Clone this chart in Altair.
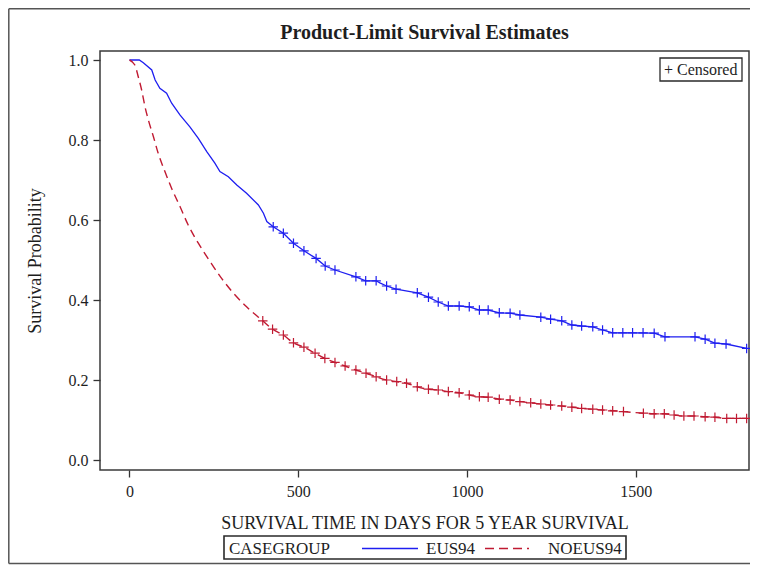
import altair as alt
import pandas as pd

# ---------------- data ----------------
eus_t = [0, 29, 41, 66, 76, 90, 110, 125, 150, 179, 204, 229, 253, 268, 293, 318, 347, 382,
         397, 407, 426, 456, 486, 517, 553, 580, 609, 671, 700, 731, 742, 762, 790, 853, 886,
         915, 945, 977, 1007, 1037, 1063, 1096, 1128, 1157, 1219, 1248, 1281, 1311, 1340,
         1373, 1402, 1432, 1491, 1555, 1587, 1676, 1706, 1735, 1768, 1829]
eus_s = [1.0, 1.0, 0.993, 0.975, 0.95, 0.929, 0.917, 0.892, 0.862, 0.833, 0.804, 0.771, 0.742,
         0.721, 0.708, 0.6875, 0.667, 0.6375, 0.617, 0.596, 0.583, 0.567, 0.542, 0.523, 0.504,
         0.485, 0.475, 0.458, 0.448, 0.448, 0.443, 0.435, 0.427, 0.418, 0.407, 0.395, 0.385,
         0.385, 0.383, 0.375, 0.375, 0.368, 0.367, 0.3625, 0.357, 0.352, 0.348, 0.3375, 0.335,
         0.333, 0.325, 0.318, 0.318, 0.317, 0.308, 0.308, 0.302, 0.292, 0.29, 0.279]

eus_cens_t = [426, 456, 486, 517, 553, 580, 609, 671, 700, 731, 762, 790, 853, 886, 915, 945,
              977, 1007, 1037, 1063, 1096, 1128, 1157, 1219, 1248, 1281, 1311, 1340, 1373, 1402,
              1432, 1462, 1491, 1522, 1555, 1587, 1676, 1706, 1735, 1768, 1829]
eus_cens_s = [0.583, 0.567, 0.542, 0.523, 0.504, 0.485, 0.475, 0.458, 0.448, 0.448, 0.435,
              0.427, 0.418, 0.407, 0.395, 0.385, 0.385, 0.383, 0.375, 0.375, 0.368, 0.367,
              0.3625, 0.357, 0.352, 0.348, 0.3375, 0.335, 0.333, 0.325, 0.318, 0.318, 0.318,
              0.318, 0.317, 0.308, 0.308, 0.302, 0.292, 0.29, 0.279]

noeus_t = [0, 16, 26, 36, 46, 56, 71, 85, 105, 125, 150, 174, 204, 239, 273, 313, 347, 395,
           424, 456, 486, 517, 550, 579, 609, 639, 671, 701, 731, 762, 792, 821, 853, 886, 915,
           945, 977, 1007, 1037, 1063, 1096, 1128, 1157, 1189, 1219, 1248, 1281, 1311, 1340,
           1373, 1402, 1432, 1464, 1523, 1555, 1585, 1614, 1643, 1673, 1706, 1735, 1770, 1799,
           1829]
noeus_s = [1.0, 0.9875, 0.958, 0.925, 0.883, 0.85, 0.808, 0.767, 0.721, 0.679, 0.633, 0.5875,
           0.542, 0.496, 0.454, 0.4125, 0.383, 0.348, 0.327, 0.3125, 0.293, 0.282, 0.267, 0.254,
           0.244, 0.235, 0.225, 0.217, 0.208, 0.2, 0.196, 0.192, 0.183, 0.177, 0.175, 0.171,
           0.168, 0.1625, 0.158, 0.157, 0.152, 0.15, 0.146, 0.143, 0.14, 0.1375, 0.135, 0.132,
           0.129, 0.127, 0.125, 0.123, 0.121, 0.117, 0.1155, 0.1155, 0.1125, 0.11, 0.11, 0.108,
           0.107, 0.104, 0.104, 0.104]

noeus_cens_t = [395, 424, 456, 486, 517, 550, 579, 609, 639, 671, 701, 731, 762, 792, 821, 853,
                886, 915, 945, 977, 1007, 1037, 1063, 1096, 1128, 1157, 1189, 1219, 1248, 1281,
                1311, 1340, 1373, 1402, 1432, 1464, 1523, 1555, 1585, 1614, 1643, 1673, 1706,
                1735, 1770, 1799, 1829]
noeus_cens_s = [0.348, 0.327, 0.3125, 0.293, 0.282, 0.267, 0.254, 0.244, 0.235, 0.225, 0.217,
                0.208, 0.2, 0.196, 0.192, 0.183, 0.177, 0.175, 0.171, 0.168, 0.1625, 0.158,
                0.157, 0.152, 0.15, 0.146, 0.143, 0.14, 0.1375, 0.135, 0.132, 0.129, 0.127,
                0.125, 0.123, 0.121, 0.117, 0.1155, 0.1155, 0.1125, 0.11, 0.11, 0.108, 0.107,
                0.104, 0.104, 0.104]

x_ticks = [0, 500, 1000, 1500]
y_ticks = [0.0, 0.2, 0.4, 0.6, 0.8, 1.0]

TITLE = "Product-Limit Survival Estimates"
X_TITLE = "SURVIVAL TIME IN DAYS FOR 5 YEAR SURVIVAL"
Y_TITLE = "Survival Probability"
LEGEND_TITLE = "CASEGROUP"
GROUPS = ["EUS94", "NOEUS94"]
CENSORED = "+ Censored"

# ---------------- styling ----------------
FONT = "Liberation Serif"
BLUE = "#1e1ef0"
RED = "#c01a32"
TXT = "#1e1e1e"
W, H = 649, 419
XDOM = [-87.4, 1836]
YDOM = [-0.025, 1.0225]
CROSS = "M-1,0L1,0M0,-1L0,1"

x_scale = alt.Scale(domain=XDOM, nice=False, zero=False)
y_scale = alt.Scale(domain=YDOM, nice=False, zero=False)

x_axis = alt.Axis(values=x_ticks, format="d", grid=False, domain=False,
                  tickSize=7, tickColor="#333", tickWidth=1.3,
                  labelFont=FONT, labelFontSize=16, labelColor=TXT, labelPadding=6,
                  labelFlush=False,
                  title=X_TITLE, titleFont=FONT, titleFontSize=18, titleFontWeight="normal",
                  titleColor=TXT, titleX=W / 2, titleY=58, titleAlign="center",
                  titleBaseline="alphabetic", titleAnchor="middle")
y_axis = alt.Axis(values=y_ticks, format=".1f", grid=False, domain=False,
                  tickSize=7, tickColor="#333", tickWidth=1.3,
                  labelFont=FONT, labelFontSize=16, labelColor=TXT, labelPadding=5,
                  labelFlush=False,
                  title=Y_TITLE, titleFont=FONT, titleFontSize=18, titleFontWeight="normal",
                  titleColor=TXT, titleAngle=270, titleX=-60, titleY=H / 2,
                  titleAlign="center", titleBaseline="alphabetic")

X = alt.X("t:Q", scale=x_scale, axis=x_axis)
Y = alt.Y("s:Q", scale=y_scale, axis=y_axis)

eus_df = pd.DataFrame({"t": eus_t, "s": eus_s})
noeus_df = pd.DataFrame({"t": noeus_t, "s": noeus_s})
eus_c = pd.DataFrame({"t": eus_cens_t, "s": eus_cens_s})
noeus_c = pd.DataFrame({"t": noeus_cens_t, "s": noeus_cens_s})
one = pd.DataFrame({"a": [0]})

line_eus = alt.Chart(eus_df).mark_line(color=BLUE, strokeWidth=1.3, interpolate="linear").encode(x=X, y=Y)
line_noeus = alt.Chart(noeus_df).mark_line(color=RED, strokeWidth=1.4, strokeDash=[8, 5],
                                           interpolate="monotone").encode(x=X, y=Y)
pts_eus = alt.Chart(eus_c).mark_point(shape=CROSS, size=90, color=BLUE, strokeWidth=1.2,
                                      filled=False, opacity=1).encode(x=X, y=Y)
pts_noeus = alt.Chart(noeus_c).mark_point(shape=CROSS, size=90, color=RED, strokeWidth=1.2,
                                          filled=False, opacity=1).encode(x=X, y=Y)

def txt(s, x, y, size=17, align="left", weight="normal"):
    return alt.Chart(one).mark_text(font=FONT, fontSize=size, fontWeight=weight, color=TXT,
                                    align=align, baseline="alphabetic").encode(
        x=alt.value(x), y=alt.value(y), text=alt.value(s))

def box(x1, x2, y1, y2, sw=1.3):
    return alt.Chart(one).mark_rect(fill="white", stroke="#2a2a2a", strokeWidth=sw).encode(
        x=alt.value(x1), x2=alt.value(x2), y=alt.value(y1), y2=alt.value(y2))

def rule(x1, x2, y1, y2, color="#555", sw=1.5, dash=None):
    kw = dict(color=color, strokeWidth=sw)
    if dash:
        kw["strokeDash"] = dash
    return alt.Chart(one).mark_rule(**kw).encode(
        x=alt.value(x1), x2=alt.value(x2), y=alt.value(y1), y2=alt.value(y2))

title = txt(TITLE, W / 2, -12, size=20, align="center", weight="bold")

# outer frame of the figure
outer = (rule(-91.2, -91.2, -42.2, 512.5) + rule(-91.2, 660, -42.2, -42.2) +
         rule(-91.2, 660, 512.5, 512.5))

cens_box = box(560, 642, 7, 30) + txt(CENSORED, 564, 24, size=16)

LY = 485
leg = (box(124, 526, LY, LY + 23, sw=1.6) + txt(LEGEND_TITLE, 129, LY + 18) +
       rule(262, 318, LY + 12.5, LY + 12.5, color=BLUE, sw=1.3) + txt(GROUPS[0], 326, LY + 18) +
       rule(385, 429, LY + 12.5, LY + 12.5, color=RED, sw=1.4, dash=[9, 5]) +
       txt(GROUPS[1], 448, LY + 18))

chart = alt.layer(line_eus, line_noeus, pts_eus, pts_noeus, title, outer, cens_box, leg).properties(
    width=W, height=H,
    autosize=alt.AutoSizeParams(type="none"),
    padding={"left": 92, "top": 43, "right": 1, "bottom": 95},
    background="white",
).configure_view(stroke="#3a3a3a", strokeWidth=1.5)

chart.save("out.html", embed_options={"renderer": "svg", "actions": False})
